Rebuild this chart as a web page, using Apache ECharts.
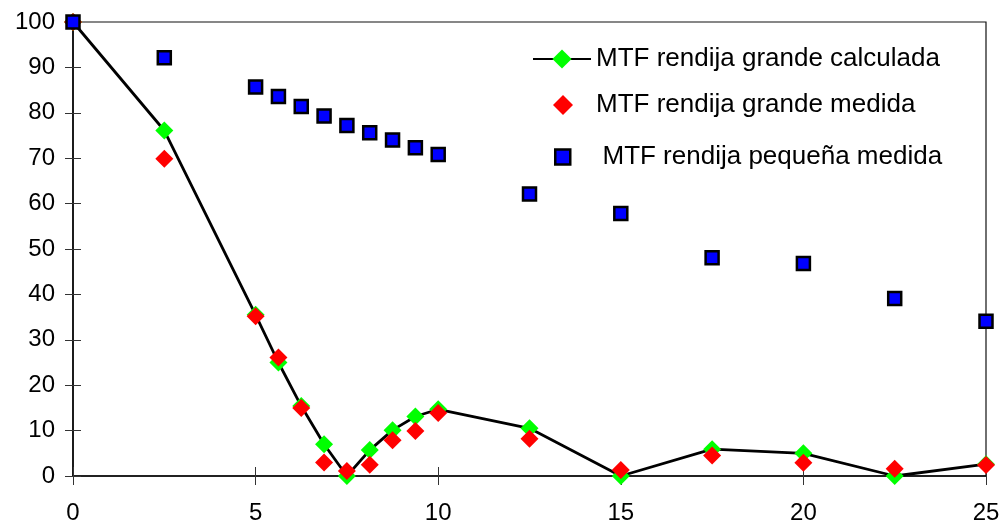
<!DOCTYPE html>
<html>
<head>
<meta charset="utf-8">
<script src="https://cdn.jsdelivr.net/npm/echarts@6/dist/echarts.min.js"></script>
<style>
  html, body { margin: 0; padding: 0; background: #fff; }
  #chart { width: 1007px; height: 530px; }
</style>
</head>
<body>
<div id="chart"></div>
<script>
// spatial frequency (x) and MTF values (%)
const freq = [0, 2.5, 5, 5.625, 6.25, 6.875, 7.5, 8.125, 8.75, 9.375, 10, 12.5, 15, 17.5, 20, 22.5, 25];
const grandeCalculada = [100, 76.1, 35.5, 25.0, 15.4, 7.0, 0, 5.7, 10.1, 13.1, 14.7, 10.5, 0, 5.9, 5.0, 0, 2.6];
const grandeMedida = [100, 69.9, 35.2, 26.1, 15.0, 3.0, 1.1, 2.5, 7.9, 9.9, 13.9, 8.2, 1.3, 4.5, 2.9, 1.6, 2.4];
const pequenaMedida = [100, 92.1, 85.7, 83.6, 81.4, 79.3, 77.2, 75.6, 74.0, 72.3, 70.8, 62.1, 57.8, 48.1, 46.8, 39.1, 34.1];
const names = ["MTF rendija grande calculada", "MTF rendija grande medida", " MTF rendija pequeña medida"];

const pairs = (ys) => freq.map((x, i) => [x, ys[i]]);
const font = "Liberation Sans, Arial, sans-serif";
const legendText = { fontFamily: font, fontSize: 26, color: "#000" };

let myChart = echarts.init(document.getElementById("chart"));
myChart.setOption({
  animation: false,
  grid: {
    left: 73,
    right: 21,
    top: 22,
    bottom: 54,
    show: true,
    borderColor: "#111",
    borderWidth: 1.2,
  },
  legend: [
    {
      left: 527,
      top: 41,
      itemWidth: 58,
      itemHeight: 24,
      textStyle: legendText,
      data: [names[0]],
    },
    {
      left: 548,
      top: 87,
      icon: "diamond",
      itemWidth: 20,
      itemHeight: 20,
      textStyle: Object.assign({ padding: [0, 0, 0, 18] }, legendText),
      data: [names[1]],
    },
    {
      left: 549,
      top: 139,
      icon: "rect",
      itemWidth: 15,
      itemHeight: 15,
      itemStyle: { borderColor: "#000", borderWidth: 2.5 },
      textStyle: Object.assign({ padding: [0, 0, 0, 20] }, legendText),
      data: [names[2]],
    },
  ],
  xAxis: [
    {
      type: "value",
      min: 0,
      max: 25,
      interval: 5,
      axisLine: { lineStyle: { color: "#000", width: 1.5 } },
      axisTick: { length: 9, lineStyle: { color: "#333" } },
      axisLabel: { margin: 25, fontFamily: font, fontSize: 24, color: "#000" },
      splitLine: { show: false },
    },
    {
      type: "value",
      position: "bottom",
      min: 0,
      max: 25,
      interval: 5,
      axisLine: { show: false },
      axisTick: { inside: true, length: 9, lineStyle: { color: "#333" } },
      axisLabel: { show: false },
      splitLine: { show: false },
    },
  ],
  yAxis: [
    {
      type: "value",
      min: 0,
      max: 100,
      interval: 10,
      axisLine: { show: true, lineStyle: { color: "#000", width: 1.5 } },
      axisTick: { show: true, length: 8, lineStyle: { color: "#333" } },
      axisLabel: { margin: 18, fontFamily: font, fontSize: 24, color: "#000" },
      splitLine: { show: false },
    },
    {
      type: "value",
      position: "left",
      min: 0,
      max: 100,
      interval: 10,
      axisLine: { show: false },
      axisTick: { show: true, inside: true, length: 8, lineStyle: { color: "#333" } },
      axisLabel: { show: false },
      splitLine: { show: false },
    },
  ],
  series: [
    {
      name: names[0],
      type: "line",
      z: 2,
      clip: false,
      symbol: "diamond",
      symbolSize: 18,
      lineStyle: { color: "#000", width: 2.8 },
      itemStyle: { color: "#00ff00" },
      data: pairs(grandeCalculada),
    },
    {
      name: names[1],
      type: "scatter",
      z: 3,
      clip: false,
      symbol: "diamond",
      symbolSize: 18,
      itemStyle: { color: "#ff0000", opacity: 1 },
      data: pairs(grandeMedida),
    },
    {
      name: names[2],
      type: "scatter",
      z: 4,
      clip: false,
      symbol: "rect",
      symbolSize: 13,
      itemStyle: { color: "#0000ff", borderColor: "#000", borderWidth: 2.5, opacity: 1 },
      data: pairs(pequenaMedida),
    },
  ],
});
</script>
</body>
</html>
